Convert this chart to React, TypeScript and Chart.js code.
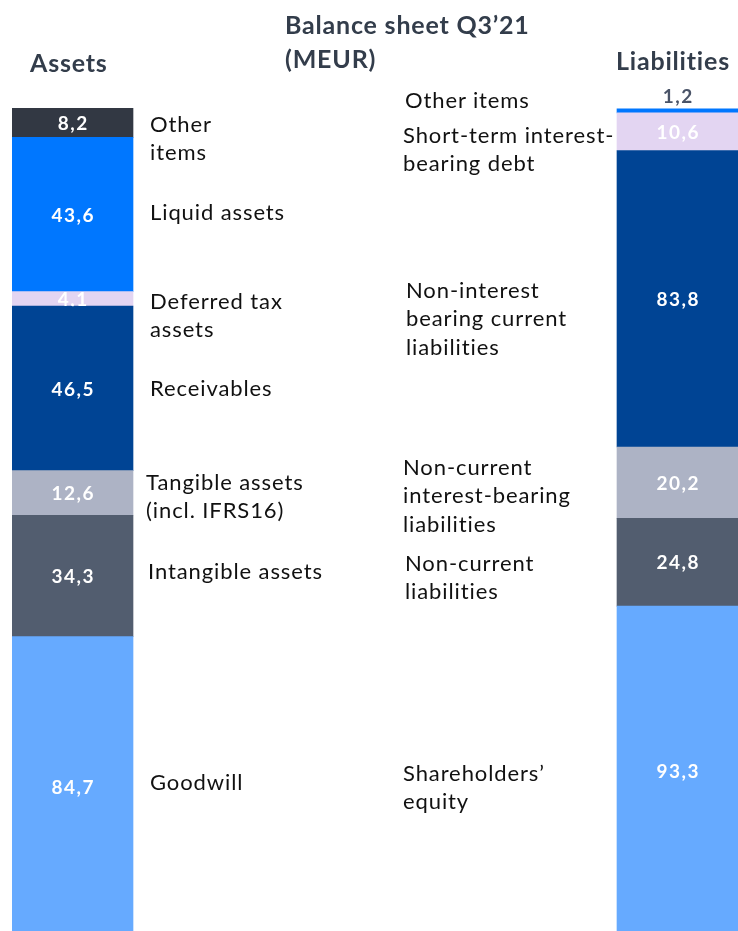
import React, { useEffect, useRef } from "react";
import { Chart, registerables } from "chart.js";

Chart.register(...registerables);

// ---- data (top of bar first) ----
const categories = ["Assets", "", "", "", "", "Liabilities"];

const assetNames = [
  "Other items",
  "Liquid assets",
  "Deferred tax assets",
  "Receivables",
  "Tangible assets (incl. IFRS16)",
  "Intangible assets",
  "Goodwill",
];
const assetValues = [8.2, 43.6, 4.1, 46.5, 12.6, 34.3, 84.7];

const liabilityNames = [
  "Other items",
  "Short-term interest-bearing debt",
  "Non-interest bearing current liabilities",
  "Non-current interest-bearing liabilities",
  "Non-current liabilities",
  "Shareholders' equity",
];
const liabilityValues = [1.2, 10.6, 83.8, 20.2, 24.8, 93.3];

// ---- styles ----
const assetColors = ["#323843", "#0077FF", "#E3D5F2", "#004494", "#ADB3C5", "#525D6F", "#66AAFF"];
const liabilityColors = ["#0077FF", "#E3D5F2", "#004494", "#ADB3C5", "#525D6F", "#66AAFF"];

const FONT = "Lato, 'Noto Sans', sans-serif";
const TITLE_COLOR = "#333D4B";
const SMALL_VALUE_COLOR = "#4A5468";

// annotation text lines with their positions (layout only)
const assetLabelLayout = [
  { lines: ["Other", "items"], x: 150, y: 124 },
  { lines: ["Liquid assets"], x: 150, y: 212 },
  { lines: ["Deferred tax", "assets"], x: 150, y: 301 },
  { lines: ["Receivables"], x: 150, y: 388 },
  { lines: ["Tangible assets", "(incl. IFRS16)"], x: 146, y: 482 },
  { lines: ["Intangible assets"], x: 148, y: 571 },
  { lines: ["Goodwill"], x: 150, y: 782 },
];
const liabilityLabelLayout = [
  { lines: ["Other items"], x: 405, y: 100 },
  { lines: ["Short-term interest-", "bearing debt"], x: 403, y: 135 },
  { lines: ["Non-interest", "bearing current", "liabilities"], x: 406, y: 290 },
  { lines: ["Non-current", "interest-bearing", "liabilities"], x: 403, y: 467 },
  { lines: ["Non-current", "liabilities"], x: 405, y: 563 },
  { lines: ["Shareholders\u2019", "equity"], x: 403, y: 773 },
];
const LINE_H = 28.6;

const fmt = (v: number) => v.toFixed(1).replace(".", ",");

const VALUE_SPACING = 1.5;

const valueLabelPlugin = {
  id: "valueLabels",
  afterDatasetsDraw(chart: any) {
    const ctx = chart.ctx;
    chart.data.datasets.forEach((ds: any, di: number) => {
      const meta = chart.getDatasetMeta(di);
      meta.data.forEach((el: any, i: number) => {
        const v = ds.data[i];
        if (v == null) return;
        const { x, y, base, width } = el.getProps(["x", "y", "base", "width"], true);
        const top = Math.min(y, base);
        const h = Math.abs(base - y);
        ctx.save();
        ctx.font = `bold 19px ${FONT}`;
        (ctx as any).letterSpacing = `${VALUE_SPACING}px`;
        ctx.textAlign = "center";
        ctx.textBaseline = "middle";
        const tx = x + VALUE_SPACING / 2;
        if (h < 8) {
          ctx.fillStyle = SMALL_VALUE_COLOR;
          ctx.fillText(fmt(v), tx, top - 12);
        } else {
          ctx.beginPath();
          ctx.rect(x - width / 2, top, width, h);
          ctx.clip();
          ctx.fillStyle = "#FFFFFF";
          ctx.fillText(fmt(v), tx, top + h / 2 + 1);
        }
        ctx.restore();
      });
    });
  },
};

export default function App() {
  const ref = useRef<HTMLCanvasElement | null>(null);

  useEffect(() => {
    if (!ref.current) return;
    const n = categories.length;
    const datasets: any[] = [];
    // bottom-up order for stacking
    for (let i = assetValues.length - 1; i >= 0; i--) {
      const data = new Array(n).fill(null);
      data[0] = assetValues[i];
      datasets.push({
        label: assetNames[i],
        data,
        backgroundColor: assetColors[i],
        borderWidth: 0,
        barPercentage: 1,
        categoryPercentage: 1,
        stack: "s",
      });
    }
    for (let i = liabilityValues.length - 1; i >= 0; i--) {
      const data = new Array(n).fill(null);
      data[n - 1] = liabilityValues[i];
      datasets.push({
        label: liabilityNames[i],
        data,
        backgroundColor: liabilityColors[i],
        borderWidth: 0,
        barPercentage: 1,
        categoryPercentage: 1,
        stack: "s",
      });
    }
    const chart = new Chart(ref.current, {
      type: "bar",
      data: { labels: categories, datasets },
      options: {
        animation: false,
        responsive: false,
        layout: { padding: { left: 12, right: 0, top: 108, bottom: 0 } },
        plugins: { legend: { display: false }, tooltip: { enabled: false } },
        scales: {
          x: { stacked: true, display: false, grid: { display: false } },
          y: { stacked: true, display: false, min: 1.5, max: 234.1, grid: { display: false } },
        },
      },
      plugins: [valueLabelPlugin],
    });
    return () => chart.destroy();
  }, []);

  const textStyle: React.CSSProperties = {
    position: "absolute",
    fontFamily: FONT,
    fontSize: 22,
    letterSpacing: "0.9px",
    fontVariantLigatures: "none",
    color: "#111111",
    lineHeight: `${LINE_H}px`,
    whiteSpace: "nowrap",
  };

  const renderLabels = (arr: typeof assetLabelLayout) =>
    arr.map((l, i) => (
      <div key={i} style={{ ...textStyle, left: l.x, top: l.y - LINE_H / 2 }}>
        {l.lines.map((s, j) => (
          <div key={j}>{s}</div>
        ))}
      </div>
    ));

  const titleStyle: React.CSSProperties = {
    position: "absolute",
    fontFamily: FONT,
    fontWeight: 700,
    fontSize: 25,
    letterSpacing: "0.8px",
    fontVariantLigatures: "none",
    color: TITLE_COLOR,
    whiteSpace: "nowrap",
    lineHeight: "34px",
  };

  return (
    <div style={{ position: "fixed", left: 0, top: 0, width: 738, height: 931, background: "#fff", overflow: "hidden" }}>
      <canvas ref={ref} width={738} height={931} style={{ position: "absolute", left: 0, top: 0 }} />
      <div style={{ ...titleStyle, left: 285, top: 24 - 17 }}>
        Balance sheet Q3’21
        <br />
        (MEUR)
      </div>
      <div style={{ ...titleStyle, left: 30, top: 62 - 17 }}>Assets</div>
      <div style={{ ...titleStyle, left: 616, top: 60 - 17 }}>Liabilities</div>
      {renderLabels(assetLabelLayout)}
      {renderLabels(liabilityLabelLayout)}
    </div>
  );
}
